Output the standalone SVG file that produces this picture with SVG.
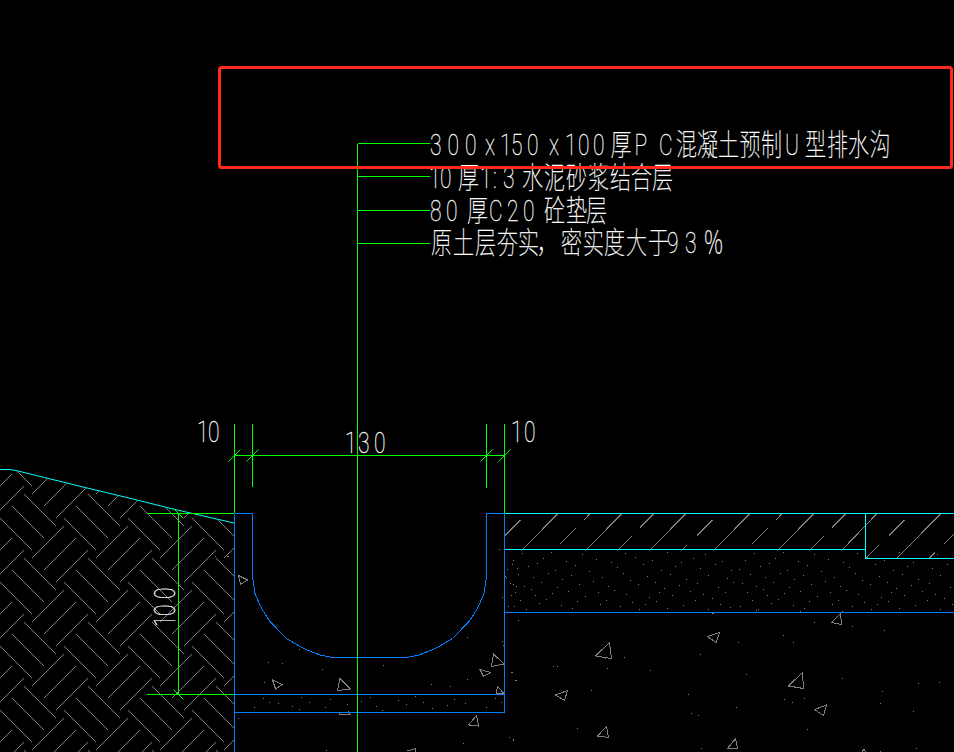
<svg xmlns="http://www.w3.org/2000/svg" width="954" height="752" viewBox="0 0 954 752">
<style>
.g{fill:none;stroke:#00ff00;stroke-width:1;shape-rendering:crispEdges}
.t{fill:none;stroke:#00ff00;stroke-width:1}
.b{fill:none;stroke:#0080ff;stroke-width:1;shape-rendering:crispEdges}
.c{fill:none;stroke:#00ffff;stroke-width:1;shape-rendering:crispEdges}
.h{fill:none;stroke:#808080;stroke-width:1;shape-rendering:crispEdges}
.d{fill:none;stroke:#808080;stroke-width:3;shape-rendering:crispEdges}
text{font-family:"Roboto","Noto Sans CJK SC",sans-serif;font-weight:100;font-size:30px;fill:#fff;stroke:#fff;stroke-width:.3px}
</style>
<defs>
<pattern id="herring" patternUnits="userSpaceOnUse" x="0" y="486" width="64" height="64">
<path class="h" d="M24.5 8.5L56.5 40.5M12.5 20.5L44.5 52.5M.5 32.5L32.5 64.5M63.5 40.5L31.5 72.5M63.5 -23.5L31.5 8.5M75.5 52.5L43.5 84.5M75.5 -11.5L43.5 20.5M11.5 52.5L-20.5 84.5M11.5 -11.5L-20.5 20.5M87.5 64.5L55.5 96.5M87.5 .5L55.5 32.5M23.5 64.5L-8.5 96.5M23.5 .5L-8.5 32.5"/>
</pattern>
<pattern id="stipple" patternUnits="userSpaceOnUse" x="504" y="551" width="232" height="60">
<path fill="none" stroke="#808080" stroke-width="1" shape-rendering="crispEdges" d="M18 2.500h1M47 1.500h1M78 3.500h1M121 2.500h1M163 1.500h1M201 3.500h1M9 9.500h1M33 12.500h1M39 7.500h1M62 10.500h1M92 8.500h1M107 11.500h1M131 6.500h1M148 9.500h1M177 11.500h1M189 7.500h1M218 10.500h1M3 18.500h1M24 15.500h1M51 19.500h1M71 14.500h1M85 20.500h1M113 16.500h1M139 13.500h1M157 19.500h1M171 15.500h1M196 17.500h1M211 13.500h1M227 19.500h1M14 23.500h1M29 26.500h1M44 22.500h1M58 28.500h1M67 24.500h1M98 26.500h1M119 22.500h1M126 29.500h1M143 25.500h1M166 23.500h1M182 28.500h1M204 24.500h1M223 27.500h1M6 32.500h1M20 35.500h1M37 31.500h1M53 36.500h1M75 33.500h1M89 30.500h1M104 35.500h1M134 33.500h1M151 31.500h1M160 37.500h1M175 34.500h1M193 32.500h1M214 36.500h1M229 31.500h1M11 41.500h1M27 38.500h1M31 44.500h1M48 42.500h1M64 40.500h1M81 45.500h1M94 41.500h1M110 39.500h1M122 43.500h1M145 46.500h1M155 41.500h1M168 44.500h1M186 40.500h1M199 43.500h1M208 47.500h1M221 41.500h1M16 49.500h1M35 52.500h1M42 48.500h1M57 54.500h1M73 50.500h1M96 53.500h1M102 49.500h1M116 55.500h1M128 51.500h1M141 53.500h1M152 50.500h1M179 54.500h1M191 49.500h1M216 53.500h1M226 56.500h1M4 55.500h1M22 58.500h1M68 57.500h1M135 58.500h1M163 57.500h1M204 58.500h1"/>
</pattern>
<clipPath id="soil"><path d="M0 470H10L18 471.500L83 487.500L133 499.500L173 509.500L234 523.500V752H0Z"/></clipPath>
</defs>
<rect width="954" height="752" fill="#000"/>
<g id="soil-hatch"><rect x="0" y="460" width="234" height="292" fill="url(#herring)" clip-path="url(#soil)"/></g>
<g id="stipple-bands">
<rect x="505" y="551" width="449" height="60" fill="url(#stipple)"/>
<rect x="235" y="696" width="269" height="15" fill="url(#stipple)"/>
</g>
<g id="gravel">
<path class="h" d="M609.500 642.500L611.500 658.500L595.500 656ZM707.500 636.500L719.500 632.500L716 642.500ZM840.500 613.500L841.500 624.500L831.500 622.500ZM802.500 672.500L803.500 688.500L788.500 686ZM826.500 705L823.500 715.500L814.500 709.500ZM567.500 690.500L564.500 700.500L555.500 695ZM606.500 726.500L608.500 737.500L597.500 736ZM735.500 738.500L737.500 748.500L727.500 748.500ZM864 749.500L867 753H861ZM493.500 654L504 664L491.500 666.500ZM480 669.500L490.500 672.500L483.500 676.500ZM497.500 686.500L504 693.500L496 694ZM238.500 575.500L247.500 580L240.500 584.500ZM272.500 680L282.500 684.500L275.500 689ZM340 678.500L350.500 689L337.500 690.500ZM338.500 712.500L340 714.500H350L348.500 711.500M468.500 725L476.500 715.500L478.500 726ZM407.500 751L415.500 748.500L415 753"/>
<g transform="translate(480 490) scale(.33333)"><path class="d" d="M115 391h3M1003 397h3M1117 411h3M1213 423h3M910 438h3M940 457h3M775 457h3M661 495h3M433 502h3M375 505h3M220 529h3M230 529h3M382 535h3M511 541h3M95 547h3M106 571h3M799 553h3M1087 565h3M1315 580h3M1378 577h3M334 601h3M625 613h3M1207 604h3M913 628h3M935 637h3M973 625h3M769 652h3M1201 640h3M634 670h3M655 676h3M1298 664h3M292 715h3M982 718h3M88 742h3M100 751h3M664 775h3M1201 784h3M1309 775h3M67 454h3M68 466h3M695 370h6M1087 365h3M961 365h3M829 361h3M58 178h3M78 262h3M65 322h3"/></g>
<g transform="translate(220 560) scale(.33333)"><path class="d" d="M145 307h3M187 310h3M236 270h3M307 330h3M490 316h3M412 342h3M133 367h3M742 358h3M740 232h3M634 373h3M691 379h3M855 50h3M875 14h3M890 25h3M880 75h3M888 80h3M873 108h3M883 140h3M847 245h3M873 337h3M887 361h3M55 475h3M730 550h3M868 532h3M880 540h3M317 572h3M-14 -12h3M20 -12h6"/></g>
</g>
<g id="paving">
<path class="h" d="M558 513.500L523 549M622 513.500L587 549M686 513.500L651 549M750 513.500L715 549M814 513.500L779 549M877 513.500L843 549M941 513.500L897 558M520.500 520L505 535.500M590 513.500L584 520M576 528L560 544M654 513.500L640 527.500M632 536L619 549M687 545L683 549M712.500 520L697 535.500M782 513.500L776 520M768 528L752 544M846 513.500L832 527.500M824 536L811 549M879 545L866 558M904.500 520L889 535.500M954 534L944 544M935 552.500L929 558.500"/>
<path class="c" d="M504.500 513.500H954M504.500 549.500H865.500M865.500 513.500V558.500H954"/>
<path class="c" d="M0 469.500H10L18 471L83 487L133 499L173 509L234 523" style="shape-rendering:auto"/>
</g>
<g id="u-channel">
<path class="b" d="M234.500 513.500H252.500V576.500L255 593.500L261.500 608.500L270 621.500L286.500 638.500L303.500 648.500L320 655L332 657.500H406.500L419 655L435.500 648.500L452.500 638.500L469 621.500L477.500 608.500L484 593.500L486.500 576.500V513.500H504.500V712.500H234.500V513.500"/>
<path class="b" d="M234.500 694.500H504.500M234.500 712.500V752M504.500 612.500H954"/>
</g>
<g id="connectors">
<path class="g" d="M357.500 143.500V752M357.500 143.500H430M357.500 176.500H430M357.500 210.500H430M357.500 243.500H430"/>
<path class="g" d="M234.500 455.500H504.500M234.500 424V513M252.500 424V487M486.500 424V488M504.500 424V513M147 513.500H234M147 694.500H234M178.500 513.500V694.500"/>
<path class="t" d="M228.500 461.500L240.500 449.500M246.500 461.500L258.500 449.500M480.500 461.500L492.500 449.500M498.500 461.500L510.500 449.500M173.500 508.500L183.500 518.500M173.500 689.500L183.500 699.500"/>
</g>
<g id="label-1"><text transform="translate(430 154.500) scale(.7 1)" x="0 25 50 78.600 100 115.700 138.600 170 192.900 211.400 232.900 258 292 327 351.400 381.400 411.400 442.100 472.900 507 535.700 567.100 597.100 627.900" y="0">300x150x100厚PC混凝土预制U型排水沟</text></g>
<g id="label-2"><text transform="translate(430 188) scale(.7 1)" x="-1.400 14.300 40 71.400 90 104.300 131.400 162.900 194.300 225.700 257.100 287.100 317.100" y="0">10厚1:3水泥砂浆结合层</text></g>
<g id="label-3"><text transform="translate(430 221) scale(.7 1)" x="0 22.900 52.900 84.300 110 132.900 162.900 194.300 222.900" y="0">80厚C20砼垫层</text></g>
<g id="label-4"><text transform="translate(430 253) scale(.7 1)" x="1.400 32.900 64.300 95.700 125.700 152.900 187.100 218.600 248.600 280 311.400 338.600 364.300 390" y="0">原土层夯实，密实度大于93％</text></g>
<g id="dim-10-left"><text transform="translate(197 442) scale(.7 1)" x="0 15.700" y="0">10</text></g>
<g id="dim-130"><text transform="translate(345 453) scale(.7 1)" x="0 18.600 41.400" y="0">130</text></g>
<g id="dim-10-right"><text transform="translate(511 442) scale(.7 1)" x="0 18.600" y="0">10</text></g>
<g id="dim-100"><text transform="translate(175 627) rotate(-90) scale(.7 1)" x="0 15.700 40" y="0">100</text></g>
<g id="highlight"><rect x="219.500" y="67.500" width="732" height="100" rx="2" fill="none" stroke="#ff2a1a" stroke-width="3"/></g>
</svg>
